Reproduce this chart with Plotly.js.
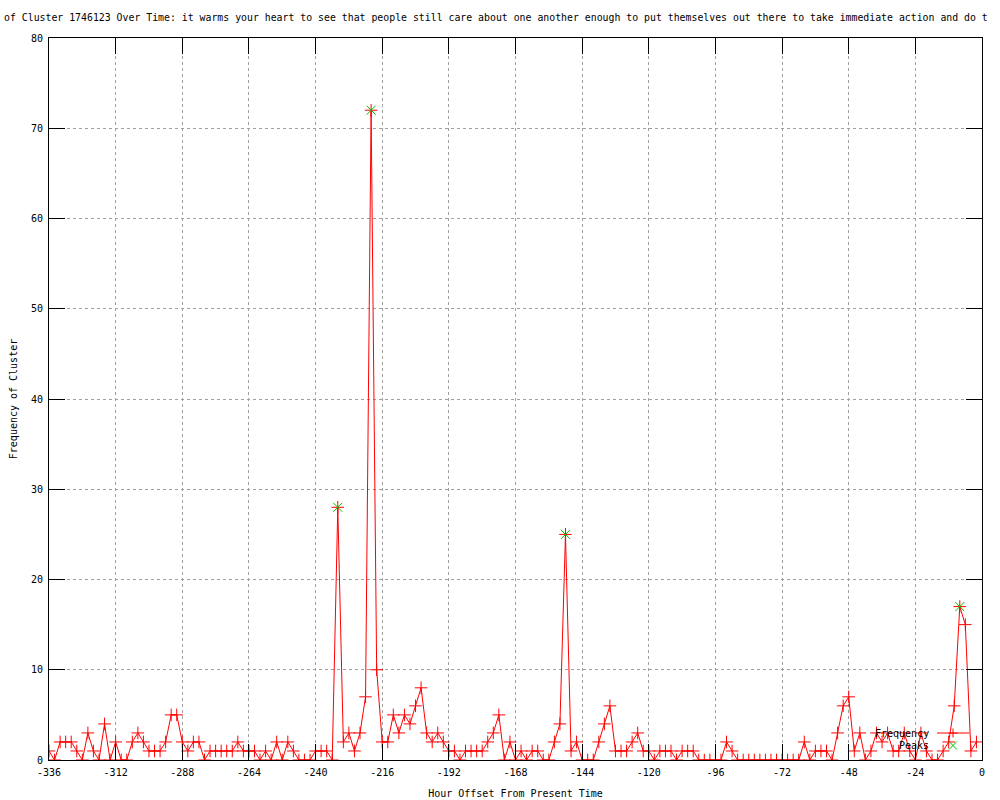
<!DOCTYPE html>
<html>
<head>
<meta charset="utf-8">
<script src="https://cdn.plot.ly/plotly-3.0.1.min.js"></script>
<style>html,body{margin:0;padding:0;background:#fff;}#chart{width:1000px;height:800px;}</style>
</head>
<body>
<div id="chart"></div>
<script>
const hours = [
 -336,-334,-332,-330,-328,-326,-324,-322,-320,-318,-316,-314,-312,-310,-308,-306,-304,-302,-300,-298,
 -296,-294,-292,-290,-288,-286,-284,-282,-280,-278,-276,-274,-272,-270,-268,-266,-264,-262,-260,-258,
 -256,-254,-252,-250,-248,-246,-244,-242,-240,-238,-236,-234,-232,-230,-228,-226,-224,-222,-220,-218,
 -216,-214,-212,-210,-208,-206,-204,-202,-200,-198,-196,-194,-192,-190,-188,-186,-184,-182,-180,-178,
 -176,-174,-172,-170,-168,-166,-164,-162,-160,-158,-156,-154,-152,-150,-148,-146,-144,-142,-140,-138,
 -136,-134,-132,-130,-128,-126,-124,-122,-120,-118,-116,-114,-112,-110,-108,-106,-104,-102,-100,-98,
 -96,-94,-92,-90,-88,-86,-84,-82,-80,-78,-76,-74,-72,-70,-68,-66,-64,-62,-60,-58,
 -56,-54,-52,-50,-48,-46,-44,-42,-40,-38,-36,-34,-32,-30,-28,-26,-24,-22,-20,-18,
 -16,-14,-12,-10,-8,-6,-4,-2
];
const frequency = [
 1,0,2,2,2,1,0,3,1,0,4,0,2,0,0,2,3,2,1,1,
 1,2,5,5,2,1,2,2,0,1,1,1,1,1,2,1,1,1,0,1,
 0,2,0,2,1,0,0,0,1,1,1,0,28,2,3,1,3,7,72,10,
 2,2,5,3,5,4,6,8,3,2,3,2,1,1,0,1,1,1,1,2,
 3,5,0,2,0,1,0,1,1,0,0,2,4,25,1,2,0,0,0,2,
 4,6,1,1,1,2,3,1,1,0,1,1,1,0,1,1,1,0,0,0,
 0,0,2,1,0,0,0,0,0,0,0,0,0,0,0,0,2,0,1,1,
 1,0,3,6,7,1,3,0,1,3,2,3,1,1,3,1,0,3,1,0,
 0,1,2,6,17,15,1,2
];
const peakHours = [-232, -220, -150, -8];
const peakValues = [28, 72, 25, 17];
const xTickVals = [-336,-312,-288,-264,-240,-216,-192,-168,-144,-120,-96,-72,-48,-24,0];
const xTickText = ["-336","-312","-288","-264","-240","-216","-192","-168","-144","-120","-96","-72","-48","-24","0"];
const yTickVals = [0,10,20,30,40,50,60,70,80];
const titleText = "of Cluster 1746123 Over Time: it warms your heart to see that people still care about one another enough to put themselves out there to take immediate action and do t";
const legendNames = ["Frequency", "Peaks"];

const FONT = {family: "DejaVu Sans Mono, Liberation Mono, monospace", size: 10, color: "#000"};
const TITLE_FONT = {family: "DejaVu Sans Mono, Liberation Mono, monospace", size: 9.85, color: "#000"};
const RED = "#ff0000", GREEN = "#00c000";

const traces = [
  {x: hours, y: frequency, type: "scatter", mode: "lines+markers", name: legendNames[0],
   line: {color: RED, width: 1},
   marker: {symbol: "cross-thin-open", size: 9, color: RED, line: {color: RED, width: 1}},
   cliponaxis: true, showlegend: false},
  {x: peakHours, y: peakValues, type: "scatter", mode: "markers", name: legendNames[1],
   marker: {symbol: "x-thin-open", size: 9, color: GREEN, line: {color: GREEN, width: 1}},
   cliponaxis: true, showlegend: false}
];

// custom gnuplot-style key (text left of sample) in paper coordinates
const L = 49, R = 982, T = 38, B = 760;
const px = v => (v - L) / (R - L);
const py = v => (B - v) / (B - T);
const keyY1 = 733, keyY2 = 745.5, keyTextRight = 931, keyMid = 953;
const shapes = [
  {type: "line", xref: "paper", yref: "paper", x0: px(937), x1: px(969.5), y0: py(keyY1), y1: py(keyY1), line: {color: RED, width: 1}},
  {type: "line", xref: "paper", yref: "paper", x0: px(keyMid - 4.5), x1: px(keyMid + 4.5), y0: py(keyY1), y1: py(keyY1), line: {color: RED, width: 1}},
  {type: "line", xref: "paper", yref: "paper", x0: px(keyMid), x1: px(keyMid), y0: py(keyY1 - 4.5), y1: py(keyY1 + 4.5), line: {color: RED, width: 1}},
  {type: "line", xref: "paper", yref: "paper", x0: px(keyMid - 4), x1: px(keyMid + 4), y0: py(keyY2 - 4), y1: py(keyY2 + 4), line: {color: GREEN, width: 1}},
  {type: "line", xref: "paper", yref: "paper", x0: px(keyMid - 4), x1: px(keyMid + 4), y0: py(keyY2 + 4), y1: py(keyY2 - 4), line: {color: GREEN, width: 1}}
];
const annotations = [
  {xref: "paper", yref: "paper", x: px(keyTextRight), y: py(keyY1), xanchor: "right", yanchor: "middle", text: legendNames[0], showarrow: false, font: FONT},
  {xref: "paper", yref: "paper", x: px(keyTextRight), y: py(keyY2), xanchor: "right", yanchor: "middle", text: legendNames[1], showarrow: false, font: FONT}
];

const axisCommon = {
  showline: true, linecolor: "#000", linewidth: 1, mirror: "ticks",
  ticks: "inside", ticklen: 16, tickwidth: 1, tickcolor: "#000",
  showgrid: true, gridcolor: "#a0a0a0", gridwidth: 1, griddash: "3px,3px",
  zeroline: false, tickfont: FONT, automargin: false, fixedrange: true,
  ticklabelstandoff: 3
};

const layout = {
  width: 1000, height: 800,
  margin: {l: 49, r: 18, t: 38, b: 40, pad: 0},
  paper_bgcolor: "#fff", plot_bgcolor: "#fff",
  showlegend: false,
  title: {text: titleText, font: TITLE_FONT, x: 0.004, xanchor: "left", xref: "container", y: 1 - 18/800, yref: "container", yanchor: "middle"},
  xaxis: Object.assign({}, axisCommon, {
    range: [-336, 0], tickmode: "array", tickvals: xTickVals, ticktext: xTickText,
    title: {text: "Hour Offset From Present Time", font: FONT, standoff: 12}
  }),
  yaxis: Object.assign({}, axisCommon, {
    range: [0, 80], tickmode: "array", tickvals: yTickVals,
    title: {text: "Frequency of Cluster", font: FONT, standoff: 11}
  }),
  shapes: shapes,
  annotations: annotations
};

Plotly.newPlot("chart", traces, layout, {displayModeBar: false, staticPlot: true});
</script>
</body>
</html>
